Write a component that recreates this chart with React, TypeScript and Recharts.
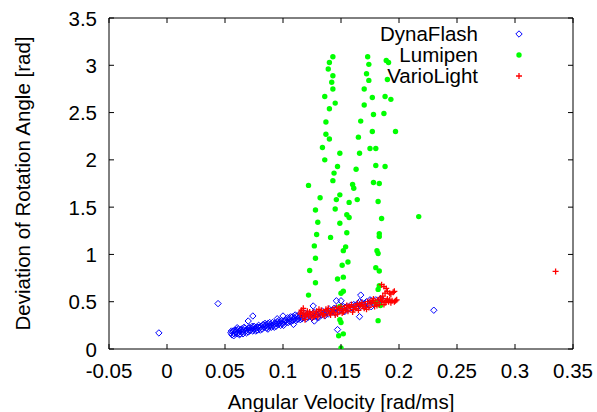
import { ScatterChart, Scatter, XAxis, YAxis, ReferenceLine, Legend } from "recharts";

// axis ticks
const xTicks = [-0.05, 0, 0.05, 0.1, 0.15, 0.2, 0.25, 0.3, 0.35];
const yTicks = [0, 0.5, 1, 1.5, 2, 2.5, 3, 3.5];

// [angular velocity, deviation]
const dynaFlash: [number, number][] = [
  [-0.007, 0.17], [0.044, 0.48], [0.23, 0.41],
  [0.055, 0.17], [0.056, 0.15], [0.057, 0.19], [0.058, 0.16], [0.059, 0.18], [0.06, 0.2],
  [0.061, 0.17], [0.062, 0.19], [0.063, 0.16], [0.064, 0.21], [0.065, 0.18], [0.066, 0.2],
  [0.067, 0.22], [0.068, 0.19], [0.069, 0.21], [0.07, 0.18], [0.071, 0.23], [0.072, 0.2],
  [0.073, 0.22], [0.074, 0.19], [0.075, 0.24], [0.076, 0.21], [0.077, 0.23], [0.078, 0.2],
  [0.079, 0.25], [0.08, 0.22], [0.081, 0.24], [0.082, 0.21], [0.083, 0.26], [0.084, 0.23],
  [0.085, 0.25], [0.086, 0.22], [0.087, 0.27], [0.088, 0.24], [0.089, 0.26], [0.09, 0.23],
  [0.091, 0.28], [0.092, 0.25], [0.093, 0.27], [0.094, 0.24], [0.095, 0.29], [0.096, 0.26],
  [0.097, 0.28], [0.098, 0.25], [0.099, 0.3], [0.1, 0.27], [0.101, 0.29], [0.102, 0.31],
  [0.103, 0.28], [0.104, 0.33], [0.105, 0.3], [0.106, 0.32], [0.107, 0.29], [0.108, 0.34],
  [0.109, 0.31], [0.11, 0.33], [0.111, 0.3], [0.112, 0.35], [0.113, 0.32], [0.114, 0.34],
  [0.115, 0.31], [0.116, 0.36], [0.117, 0.33], [0.118, 0.35], [0.12, 0.32], [0.121, 0.37],
  [0.122, 0.34], [0.124, 0.36], [0.125, 0.33], [0.126, 0.38], [0.128, 0.35], [0.129, 0.37],
  [0.13, 0.34], [0.132, 0.39], [0.133, 0.36], [0.135, 0.38], [0.136, 0.35], [0.138, 0.4],
  [0.139, 0.37], [0.14, 0.42], [0.142, 0.39], [0.143, 0.41], [0.145, 0.38], [0.146, 0.43],
  [0.148, 0.4], [0.15, 0.42], [0.151, 0.44], [0.153, 0.41], [0.155, 0.45], [0.156, 0.42],
  [0.158, 0.46], [0.16, 0.43], [0.161, 0.47], [0.163, 0.44], [0.165, 0.48], [0.167, 0.45],
  [0.168, 0.49], [0.17, 0.46], [0.172, 0.5], [0.174, 0.47], [0.176, 0.51], [0.178, 0.48],
  [0.18, 0.52], [0.182, 0.49], [0.184, 0.53],
  [0.0555, 0.19], [0.0575, 0.14], [0.0585, 0.2], [0.0605, 0.16], [0.0615, 0.21], [0.0625, 0.15],
  [0.0635, 0.2], [0.0655, 0.16], [0.0665, 0.23], [0.0685, 0.17], [0.0705, 0.22], [0.0715, 0.19],
  [0.0735, 0.24], [0.0745, 0.21], [0.0765, 0.19], [0.0785, 0.23], [0.0805, 0.2], [0.0825, 0.25],
  [0.0845, 0.27], [0.0865, 0.24], [0.0885, 0.28], [0.0905, 0.25], [0.0925, 0.23], [0.0945, 0.27],
  [0.0965, 0.3], [0.0985, 0.27], [0.1005, 0.25], [0.1025, 0.3], [0.1045, 0.28], [0.1065, 0.34],
  [0.1085, 0.3], [0.1105, 0.36], [0.1125, 0.31], [0.1145, 0.37], [0.1165, 0.32], [0.119, 0.38],
  [0.123, 0.35], [0.127, 0.39], [0.131, 0.37], [0.134, 0.4], [0.137, 0.38], [0.141, 0.4],
  [0.144, 0.43], [0.149, 0.41], [0.152, 0.45], [0.157, 0.43], [0.162, 0.46], [0.166, 0.5],
  [0.171, 0.48], [0.175, 0.52], [0.179, 0.5], [0.183, 0.51], [0.186, 0.52], [0.1305, 0.33],
  [0.0605, 0.225], [0.087, 0.21], [0.095, 0.32], [0.109, 0.26],
  [0.126, 0.455], [0.146, 0.51], [0.15, 0.51], [0.167, 0.57], [0.176, 0.447], [0.166, 0.342],
  [0.147, 0.205], [0.127, 0.296], [0.153, 0.394], [0.074, 0.349], [0.07, 0.296], [0.1, 0.349],
];

const lumipen: [number, number][] = [
  [0.143, 3.09], [0.14, 3.03], [0.139, 2.96], [0.143, 2.89], [0.142, 2.82], [0.143, 2.75],
  [0.136, 2.67], [0.145, 2.6], [0.14, 2.54], [0.137, 2.4], [0.137, 2.27], [0.14, 2.22],
  [0.134, 2.13], [0.149, 2.07], [0.136, 2.0], [0.147, 1.93], [0.144, 1.86], [0.143, 1.78],
  [0.122, 1.73], [0.132, 1.6], [0.149, 1.63], [0.146, 1.58], [0.128, 1.47], [0.145, 1.48],
  [0.13, 1.34], [0.149, 1.33], [0.129, 1.21], [0.141, 1.18], [0.127, 1.09], [0.154, 1.08],
  [0.152, 1.04], [0.128, 0.96], [0.123, 0.83], [0.151, 0.885], [0.156, 0.92], [0.128, 0.7],
  [0.147, 0.74], [0.152, 0.76], [0.122, 0.57], [0.15, 0.59], [0.152, 0.61], [0.149, 0.45],
  [0.149, 0.31], [0.15, 0.28], [0.148, 0.14], [0.152, 0.16], [0.15, 0.01],
  [0.173, 3.09], [0.174, 3.01], [0.172, 2.91], [0.174, 2.84], [0.17, 2.75], [0.177, 2.66],
  [0.17, 2.58], [0.178, 2.48], [0.167, 2.41], [0.177, 2.3], [0.165, 2.24], [0.175, 2.12],
  [0.18, 2.12], [0.166, 2.07], [0.18, 1.94], [0.163, 1.9], [0.178, 1.76], [0.183, 1.75],
  [0.16, 1.74], [0.161, 1.7], [0.164, 1.58], [0.157, 1.55], [0.182, 1.56], [0.155, 1.42],
  [0.157, 1.39], [0.185, 1.38], [0.155, 1.23], [0.183, 1.22], [0.183, 1.19], [0.181, 1.04],
  [0.182, 1.01], [0.18, 0.86], [0.183, 0.825], [0.183, 0.67], [0.182, 0.63], [0.18, 0.49],
  [0.184, 0.46], [0.182, 0.3],
  [0.189, 3.05], [0.191, 3.03], [0.19, 2.85], [0.188, 2.67], [0.193, 2.64], [0.187, 2.49],
  [0.197, 2.3], [0.188, 1.93], [0.217, 1.4],
];

const varioLight: [number, number][] = [
  [0.115, 0.37], [0.116, 0.41], [0.117, 0.34], [0.118, 0.38], [0.119, 0.31], [0.12, 0.36],
  [0.121, 0.4], [0.122, 0.35], [0.124, 0.37], [0.125, 0.33], [0.126, 0.39], [0.128, 0.36],
  [0.129, 0.4], [0.13, 0.34], [0.132, 0.38], [0.133, 0.41], [0.135, 0.37], [0.136, 0.35],
  [0.138, 0.4], [0.139, 0.43], [0.14, 0.38], [0.141, 0.36], [0.143, 0.42], [0.144, 0.39],
  [0.146, 0.44], [0.147, 0.37], [0.149, 0.41], [0.15, 0.45], [0.152, 0.39], [0.153, 0.43],
  [0.155, 0.46], [0.156, 0.4], [0.158, 0.44], [0.159, 0.47], [0.161, 0.42], [0.162, 0.45],
  [0.164, 0.48], [0.165, 0.41], [0.167, 0.46], [0.168, 0.49], [0.17, 0.43], [0.171, 0.47],
  [0.173, 0.5], [0.174, 0.44], [0.176, 0.48], [0.177, 0.51], [0.179, 0.45], [0.18, 0.49],
  [0.182, 0.52], [0.183, 0.47], [0.185, 0.5], [0.186, 0.53], [0.188, 0.49], [0.189, 0.51],
  [0.191, 0.5], [0.192, 0.52], [0.194, 0.51], [0.196, 0.5], [0.198, 0.52],
  [0.1155, 0.39], [0.1175, 0.43], [0.1195, 0.35], [0.123, 0.39], [0.127, 0.34], [0.131, 0.42],
  [0.134, 0.36], [0.137, 0.42], [0.142, 0.4], [0.145, 0.36], [0.148, 0.43], [0.151, 0.38],
  [0.154, 0.41], [0.157, 0.45], [0.16, 0.39], [0.163, 0.43], [0.166, 0.47], [0.169, 0.45],
  [0.172, 0.42], [0.175, 0.5], [0.178, 0.53], [0.181, 0.46], [0.184, 0.54], [0.187, 0.47],
  [0.19, 0.53], [0.193, 0.49], [0.197, 0.51], [0.186, 0.56],
  [0.185, 0.68], [0.187, 0.66], [0.188, 0.59], [0.19, 0.61], [0.193, 0.58], [0.195, 0.6],
  [0.189, 0.64], [0.192, 0.59], [0.196, 0.61],
  [0.335, 0.82],
];

const W = 597;
const H = 412;
const TOP = 18;
const BOTTOM = 349;
const LEFT = 109;
const RIGHT = 573;
const TICK = 5;
const FS = 20.5;
const FONT = '"Liberation Sans", Arial, Helvetica, sans-serif';

const toPoints = (rows: [number, number][]) => rows.map(([x, y]) => ({ x, y }));

const Diamond = ({ cx, cy }: any) => (
  <path d={`M${cx},${cy - 3.2}L${cx + 3.2},${cy}L${cx},${cy + 3.2}L${cx - 3.2},${cy}Z`} fill="none" stroke="#0000ff" strokeWidth={1} />
);
const Dot = ({ cx, cy }: any) => <circle cx={cx} cy={cy} r={2.7} fill="#00ff00" />;
const Plus = ({ cx, cy }: any) => (
  <path d={`M${cx - 3},${cy}H${cx + 3}M${cx},${cy - 3}V${cy + 3}`} stroke="#ff0000" strokeWidth={1.3} fill="none" />
);

const XTick = ({ x, payload }: any) => (
  <g>
    <line x1={x} x2={x} y1={BOTTOM} y2={BOTTOM - TICK} stroke="#000" />
    <line x1={x} x2={x} y1={TOP} y2={TOP + TICK} stroke="#000" />
    <text x={x} y={BOTTOM + 29} textAnchor="middle" fontSize={FS} fontFamily={FONT} fill="#000">
      {payload.value}
    </text>
  </g>
);

const YTick = ({ y, payload }: any) => (
  <g>
    <line x1={LEFT} x2={LEFT + TICK} y1={y} y2={y} stroke="#000" />
    <line x1={RIGHT} x2={RIGHT - TICK} y1={y} y2={y} stroke="#000" />
    <text x={LEFT - 12} y={y + 7.5} textAnchor="end" fontSize={FS} fontFamily={FONT} fill="#000">
      {payload.value}
    </text>
  </g>
);

const YLabel = ({ viewBox }: any) => {
  const cx = 30;
  const cy = viewBox.y + viewBox.height / 2;
  return (
    <text x={cx} y={cy} transform={`rotate(-90 ${cx} ${cy})`} textAnchor="middle" fontSize={FS} fontFamily={FONT} fill="#000">
      Deviation of Rotation Angle [rad]
    </text>
  );
};

const XLabel = ({ viewBox }: any) => {
  const cx = viewBox.x + viewBox.width / 2;
  return (
    <text x={cx} y={409} textAnchor="middle" fontSize={FS} fontFamily={FONT} fill="#000">
      Angular Velocity [rad/ms]
    </text>
  );
};

const markers: Record<string, (p: any) => any> = { DynaFlash: Diamond, Lumipen: Dot, VarioLight: Plus };

const LegendBox = ({ payload }: any) => (
  <svg width={W} height={100} style={{ display: "block" }}>
    {(payload || []).map((item: any, i: number) => {
      const Marker = markers[item.value];
      const cy = 34 + i * 21;
      return (
        <g key={item.value}>
          <text x={478} y={cy + 7} textAnchor="end" fontSize={FS} fontFamily={FONT} fill="#000">
            {item.value}
          </text>
          {Marker ? <Marker cx={519} cy={cy} /> : null}
        </g>
      );
    })}
  </svg>
);

export default function App() {
  return (
    <div style={{ position: "absolute", left: 0, top: 0, width: W, height: H, background: "#fff" }}>
      <ScatterChart width={W} height={H} margin={{ top: TOP, right: W - RIGHT, bottom: 0, left: 0 }}>
        <XAxis
          type="number"
          dataKey="x"
          domain={[-0.05, 0.35]}
          ticks={xTicks}
          tick={<XTick />}
          tickLine={false}
          axisLine={{ stroke: "#000" }}
          height={H - BOTTOM}
          allowDataOverflow
          label={<XLabel />}
        />
        <YAxis
          type="number"
          dataKey="y"
          domain={[0, 3.5]}
          ticks={yTicks}
          tick={<YTick />}
          tickLine={false}
          axisLine={{ stroke: "#000" }}
          width={LEFT}
          allowDataOverflow
          label={<YLabel />}
        />
        <ReferenceLine y={3.5} stroke="#000" />
        <ReferenceLine x={0.35} stroke="#000" />
        <Legend
          layout="vertical"
          align="center"
          verticalAlign="middle"
          content={<LegendBox />}
          wrapperStyle={{ position: "absolute", left: 0, top: 0, width: W, height: 100 }}
        />
        <Scatter name="DynaFlash" data={toPoints(dynaFlash)} fill="#0000ff" shape={Diamond} isAnimationActive={false} />
        <Scatter name="Lumipen" data={toPoints(lumipen)} fill="#00ff00" shape={Dot} isAnimationActive={false} />
        <Scatter name="VarioLight" data={toPoints(varioLight)} fill="#ff0000" shape={Plus} isAnimationActive={false} />
      </ScatterChart>
    </div>
  );
}
